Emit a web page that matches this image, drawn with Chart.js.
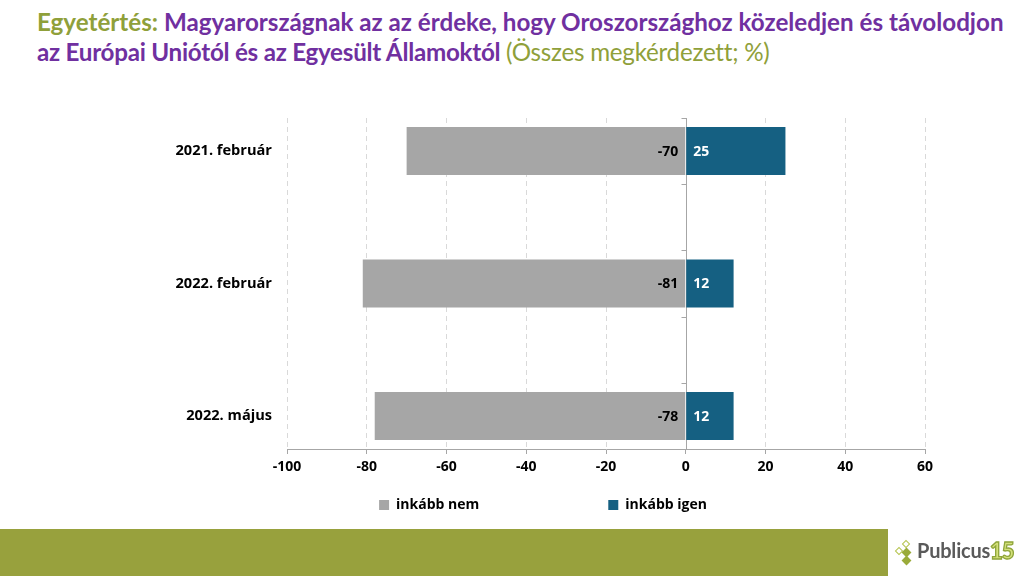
<!DOCTYPE html>
<html>
<head>
<meta charset="utf-8">
<script src="https://cdn.jsdelivr.net/npm/chart.js@4.4.0/dist/chart.umd.min.js"></script>
<style>
  html, body { margin: 0; padding: 0; background: #fff; }
  body { width: 1024px; height: 576px; position: relative; overflow: hidden; font-family: Lato, "Open Sans", sans-serif; }
  #title { position: absolute; left: 37px; top: 7px; font-size: 24.2px; line-height: 30px; font-weight: bold; color: #7030a0; white-space: nowrap; }
  #title .l2 { letter-spacing: -0.25px; }
  #title .green { color: #8fa03a; }
  #title .sub { color: #8fa03a; font-weight: normal; }
  #chartBox { position: absolute; left: 0; top: 0; width: 1024px; height: 576px; }
  #footer { position: absolute; left: 0; top: 529px; width: 888px; height: 47px; background: #98a13d; }
  #logo { position: absolute; left: 892px; top: 536px; width: 132px; height: 32px; }
  .dia { position: absolute; width: 6px; height: 6px; transform: rotate(45deg); box-sizing: border-box; }
  .dia.o { border: 1.5px solid #b5c44e; }
  .dia.f { background: #9aab3a; }
  #logo .name { position: absolute; left: 25px; top: 2px; font-size: 20px; font-weight: bold; color: #5a5a5a; letter-spacing: -0.2px; }
  #logo .num { position: absolute; left: 98px; top: 1px; font-size: 22px; font-weight: 900; color: #d3e07a; -webkit-text-stroke: 1.3px #8fa53a; letter-spacing: -1px; }
</style>
</head>
<body>
<div id="title">
  <div><span class="green">Egyetértés:</span> Magyarországnak az az érdeke, hogy Oroszországhoz közeledjen és távolodjon</div>
  <div class="l2">az Európai Uniótól és az Egyesült Államoktól <span class="sub">(Összes megkérdezett; %)</span></div>
</div>
<div id="chartBox"><canvas id="chart"></canvas></div>
<div id="footer"></div>
<div id="logo">
  <div class="dia o" style="left:11px;top:5px"></div>
  <div class="dia o" style="left:4px;top:12px"></div>
  <div class="dia f" style="left:11px;top:13px;width:7px;height:7px"></div>
  <div class="dia f" style="left:11px;top:21px;width:7px;height:7px"></div>
  <span class="name">Publicus</span><span class="num">15</span>
</div>
<script>
// adatok
var categories = ['2021. február', '', '2022. február', '', '2022. május'];
var inkabbNem = [-70, null, -81, null, -78];
var inkabbIgen = [25, null, 12, null, 12];
var xTicks = [-100, -80, -60, -40, -20, 0, 20, 40, 60];
var seriesNames = ['inkább nem', 'inkább igen'];

var fontFamily = '"Open Sans", Lato, sans-serif';

// függőleges tengely a nullánál, osztásokkal a kategóriák között
var zeroAxis = {
	id: 'zeroAxis',
	beforeDatasetsDraw: function(chart) {
		var ctx = chart.ctx;
		var x = Math.round(chart.scales.x.getPixelForValue(0)) + 0.5;
		var area = chart.chartArea;
		ctx.save();
		ctx.strokeStyle = '#a6a6a6';
		ctx.lineWidth = 1;
		ctx.beginPath();
		ctx.moveTo(x, area.top);
		ctx.lineTo(x, area.bottom);
		for (var i = 0; i <= categories.length; i++) {
			var y = Math.round(chart.scales.y.getPixelForValue(i - 0.5)) + 0.5;
			ctx.moveTo(x - 5, y);
			ctx.lineTo(x, y);
		}
		ctx.stroke();
		ctx.restore();
	}
};

// értékcímkék a nulla mellett
var barLabels = {
	id: 'barLabels',
	afterDatasetsDraw: function(chart) {
		var ctx = chart.ctx;
		ctx.save();
		ctx.font = 'bold 14px ' + fontFamily;
		ctx.textBaseline = 'middle';
		chart.data.datasets.forEach(function(ds, i) {
			chart.getDatasetMeta(i).data.forEach(function(bar, j) {
				var v = ds.data[j];
				if (v === null || v === undefined) return;
				if (v < 0) {
					ctx.fillStyle = '#000';
					ctx.textAlign = 'right';
					ctx.fillText(v, bar.base - 7, bar.y + 1);
				} else {
					ctx.fillStyle = '#fff';
					ctx.textAlign = 'left';
					ctx.fillText(v, bar.base + 7, bar.y + 1);
				}
			});
		});
		ctx.restore();
	}
};

var em = '\u2003', en = '\u2002';

var chart = new Chart(document.getElementById('chart'), {
	type: 'bar',
	data: {
		labels: categories,
		datasets: [{
			label: seriesNames[0],
			data: inkabbNem,
			backgroundColor: '#a6a6a6',
			barPercentage: 0.725,
			categoryPercentage: 1
		}, {
			label: seriesNames[1],
			data: inkabbIgen,
			backgroundColor: '#156082',
			barPercentage: 0.725,
			categoryPercentage: 1
		}]
	},
	options: {
		indexAxis: 'y',
		responsive: true,
		maintainAspectRatio: false,
		animation: false,
		layout: {
			padding: { left: 87, right: 99, top: 118, bottom: 54 }
		},
		scales: {
			x: {
				stacked: true,
				min: xTicks[0],
				max: xTicks[xTicks.length - 1],
				afterBuildTicks: function(scale) {
					scale.ticks = xTicks.map(function(v) { return { value: v }; });
				},
				afterFit: function(scale) { scale.height = 39; },
				grid: {
					color: function(c) { return c.tick && c.tick.value === 0 ? 'rgba(0,0,0,0)' : '#d9d9d9'; },
					tickColor: '#a6a6a6',
					tickLength: 5
				},
				border: { display: true, color: '#a6a6a6', dash: [5, 4] },
				ticks: {
					padding: 5,
					color: '#000',
					font: { family: fontFamily, size: 14, weight: 'bold' }
				}
			},
			y: {
				stacked: true,
				afterFit: function(scale) { scale.width = 200; },
				grid: { display: false, drawTicks: false },
				border: { display: false },
				ticks: {
					padding: 15,
					color: '#000',
					autoSkip: false,
					font: { family: fontFamily, size: 14.6, weight: 'bold' }
				}
			}
		},
		plugins: {
			legend: {
				position: 'bottom',
				fullSize: false,
				labels: {
					color: '#000',
					boxWidth: 10,
					boxHeight: 10,
					padding: 10,
					font: { family: fontFamily, size: 14, weight: 'bold' },
					generateLabels: function(chart) {
						var items = Chart.defaults.plugins.legend.labels.generateLabels(chart);
						items[0].text = items[0].text + em.repeat(8) + en;
						items[1].text = items[1].text + em.repeat(9);
						return items;
					}
				}
			},
			tooltip: { enabled: false }
		}
	},
	plugins: [zeroAxis, barLabels]
});
</script>
</body>
</html>
